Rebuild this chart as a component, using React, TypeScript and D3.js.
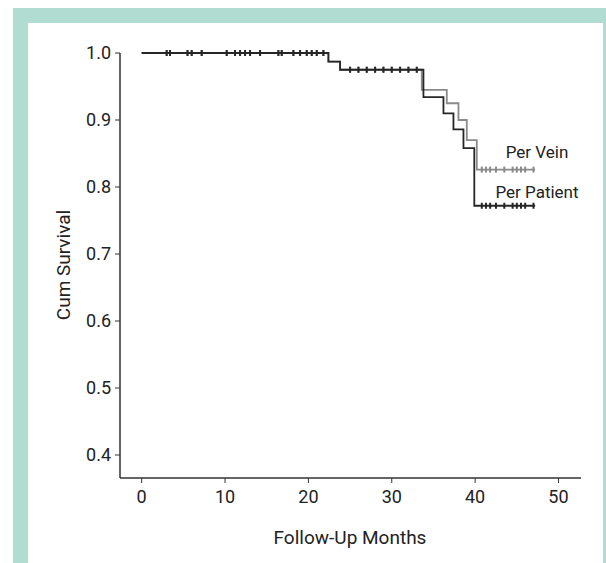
import React from "react";
import * as d3 from "d3";

const xTicks = [0, 10, 20, 30, 40, 50];
const yTicks = [0.4, 0.5, 0.6, 0.7, 0.8, 0.9, 1.0];
// step curves: [time, survival]
const patientSteps: [number, number][] = [
  [0, 1.0], [22.4, 0.987], [23.8, 0.975], [33.8, 0.934], [36.2, 0.91], [37.4, 0.886], [38.6, 0.858], [39.9, 0.772], [47.2, 0.772],
];
const veinSteps: [number, number][] = [
  [0, 1.0], [22.4, 0.987], [23.8, 0.975], [33.6, 0.945], [36.6, 0.925], [38.0, 0.9], [39.0, 0.87], [40.2, 0.826], [47.2, 0.826],
];
const earlyCensors = [3.0, 3.4, 5.5, 6.0, 7.2, 10.2, 11.2, 11.8, 12.4, 13.0, 14.2, 16.4, 16.8, 18.2, 19.0, 19.8, 20.4, 21.0, 21.8];
const midCensors = [25, 26, 27, 28, 29, 30, 31, 32, 33];
const tailCensors = [40.8, 41.3, 41.8, 42.5, 43.5, 44.5, 45.0, 45.5, 46.0, 47.0];

const x = d3.scaleLinear().domain([-2.6, 52.7]).range([120, 581]);
const y = d3.scaleLinear().domain([0.4, 1.0]).range([455, 53]);
const line = d3.line<[number, number]>().x(d => x(d[0])).y(d => y(d[1])).curve(d3.curveStepAfter);

function survAt(steps: [number, number][], t: number) {
  let s = steps[0][1];
  for (const [tt, v] of steps) if (tt <= t) s = v;
  return s;
}

const font = "Roboto, sans-serif";

export default function App() {
  const curves = [
    { steps: veinSteps, color: "#8a8a8a" },
    { steps: patientSteps, color: "#262626" },
  ];
  return (
    <svg width={606} height={563} style={{ position: "absolute", left: 0, top: 0 }}>
      <rect x={13} y={8} width={593} height={555} fill="#b0dcd2" />
      <rect x={28} y={23} width={575} height={540} fill="#fff" />
      {curves.map((c, i) => (
        <g key={i}>
          <path d={line(c.steps) || ""} fill="none" stroke={c.color} strokeWidth={1.8} />
          {[...earlyCensors, ...midCensors, ...tailCensors].map((t, j) => (
            <line key={j} x1={x(t)} x2={x(t)} y1={y(survAt(c.steps, t)) - 3} y2={y(survAt(c.steps, t)) + 3}
              stroke={c.color} strokeWidth={2} />
          ))}
        </g>
      ))}
      <line x1={120} x2={120} y1={y(1.0)} y2={478} stroke="#333" strokeWidth={1.5} />
      <line x1={120} x2={581} y1={478} y2={478} stroke="#333" strokeWidth={1.5} />
      {yTicks.map(v => (
        <g key={v}>
          <line x1={115} x2={120} y1={y(v)} y2={y(v)} stroke="#333" />
          <text x={111} y={y(v)} dy="0.36em" textAnchor="end" fontFamily={font} fontSize={18} fill="#222">{v.toFixed(1)}</text>
        </g>
      ))}
      {xTicks.map(v => (
        <g key={v}>
          <line x1={x(v)} x2={x(v)} y1={478} y2={483} stroke="#333" />
          <text x={x(v)} y={503} textAnchor="middle" fontFamily={font} fontSize={18} fill="#222">{v}</text>
        </g>
      ))}
      <text x={350} y={544} textAnchor="middle" fontFamily={font} fontSize={19} fill="#222">Follow-Up Months</text>
      <text transform="translate(70,265) rotate(-90)" textAnchor="middle" fontFamily={font} fontSize={19} fill="#222">Cum Survival</text>
      <text x={537} y={158} textAnchor="middle" fontFamily={font} fontSize={17} fill="#222">Per Vein</text>
      <text x={537} y={198} textAnchor="middle" fontFamily={font} fontSize={17} fill="#222">Per Patient</text>
    </svg>
  );
}
